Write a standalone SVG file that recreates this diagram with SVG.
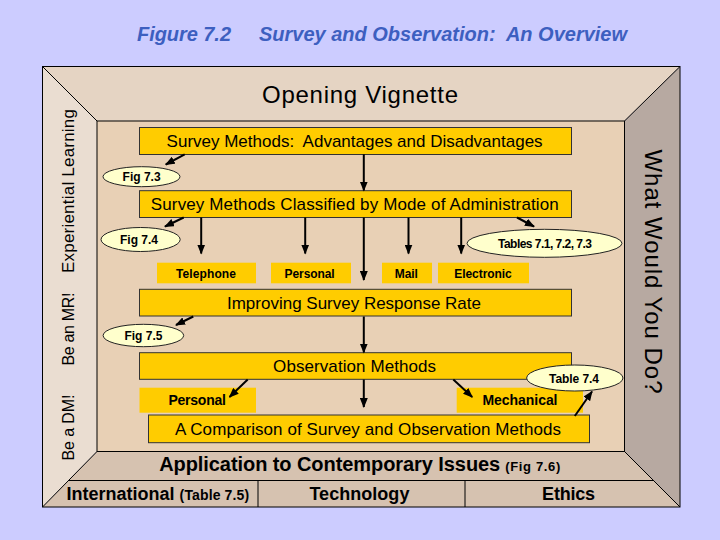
<svg xmlns="http://www.w3.org/2000/svg" width="720" height="540" viewBox="0 0 720 540">
<defs>
<style>
.t{font-family:"Liberation Sans",Arial,sans-serif;fill:#000}
.title{font-family:"Liberation Sans",Arial,sans-serif;font-weight:bold;font-style:italic;font-size:20px;fill:#3d5fc0}
.box{fill:#ffcc00;stroke:#333;stroke-width:1}
.sbox{fill:#ffcc00}
.ell{fill:#ffffcc;stroke:#222;stroke-width:1}
.bt{font-size:17px;text-anchor:middle}
.st{font-size:12px;font-weight:bold;text-anchor:middle}
.et{font-size:12px;font-weight:bold;text-anchor:middle}
.edge{stroke:#000;stroke-width:2;fill:none;marker-end:url(#ah)}
.frame{stroke:#000;stroke-width:1;fill:none}
</style>
<marker id="ah" markerWidth="10" markerHeight="8" refX="9" refY="4" orient="auto" markerUnits="userSpaceOnUse">
<path d="M0,0 L10,4 L0,8 z" fill="#000"/>
</marker>
</defs>
<rect x="0" y="0" width="720" height="540" fill="#ccccff"/>
<g id="title">
<text class="title" x="137" y="41" textLength="94">Figure 7.2</text>
<text class="title" x="259" y="41" textLength="368" xml:space="preserve">Survey and Observation:  An Overview</text>
</g>
<g id="frame">
<polygon points="42.5,66.5 680,66.5 624.5,121 97,121" fill="#e5d4c3"/>
<polygon points="42.5,66.5 97,121 97,451.5 42.5,507" fill="#eaddd1"/>
<polygon points="680,66.5 680,507 624.5,451.5 624.5,121" fill="#b7a9a1"/>
<polygon points="42.5,507 97,451.5 624.5,451.5 680,507" fill="#d6c2b0"/>
<rect x="97" y="121" width="527.5" height="330.5" fill="#e8d0b5" stroke="#000" stroke-width="1"/>
<rect x="42.5" y="66.5" width="637.5" height="440.5" class="frame" stroke-width="1.5"/>
<line x1="42.5" y1="66.5" x2="97" y2="121" class="frame"/>
<line x1="680" y1="66.5" x2="624.5" y2="121" class="frame"/>
<line x1="42.5" y1="507" x2="97" y2="451.5" class="frame"/>
<line x1="680" y1="507" x2="624.5" y2="451.5" class="frame"/>
<line x1="68.5" y1="480.5" x2="654" y2="480.5" class="frame"/>
<line x1="258" y1="480.5" x2="258" y2="507" class="frame"/>
<line x1="465" y1="480.5" x2="465" y2="507" class="frame"/>
</g>
<g id="opening-vignette">
<text class="t" x="360" y="103" font-size="24" text-anchor="middle" textLength="196">Opening Vignette</text>
</g>
<g id="side-left">
<text class="t" font-size="17" text-anchor="middle" transform="translate(74,191) rotate(-90)" textLength="164">Experiential Learning</text>
<text class="t" font-size="16" text-anchor="middle" transform="translate(74,329) rotate(-90)" textLength="73">Be an MR!</text>
<text class="t" font-size="16" text-anchor="middle" transform="translate(74,427.5) rotate(-90)" textLength="66">Be a DM!</text>
</g>
<g id="side-right">
<text class="t" font-size="24" text-anchor="middle" transform="translate(645,271.5) rotate(90)" textLength="244">What Would You Do?</text>
</g>
<g id="box-advantages">
<rect class="box" x="139.5" y="127.5" width="432" height="27"/>
<text class="t bt" x="354.6" y="147" textLength="376" xml:space="preserve">Survey Methods:  Advantages and Disadvantages</text>
</g>
<g id="fig73">
<ellipse class="ell" cx="141.5" cy="176.7" rx="38.5" ry="10"/>
<text class="t et" x="141.6" y="181" textLength="38">Fig 7.3</text>
</g>
<g id="box-classified">
<rect class="box" x="139.5" y="190.7" width="432" height="26.8"/>
<text class="t bt" x="354.8" y="210" textLength="408">Survey Methods Classified by Mode of Administration</text>
</g>
<g id="fig74">
<ellipse class="ell" cx="140.6" cy="239.5" rx="39.6" ry="12"/>
<text class="t et" x="139" y="244" textLength="38">Fig 7.4</text>
</g>
<g id="tables71">
<ellipse class="ell" cx="544.5" cy="243.3" rx="77.5" ry="14"/>
<text class="t et" x="545" y="247.5" font-size="11.5" textLength="94">Tables 7.1, 7.2, 7.3</text>
</g>
<g id="telephone">
<rect class="sbox" x="157" y="262.7" width="99" height="20.6"/>
<text class="t st" x="206" y="278" textLength="60">Telephone</text>
</g>
<g id="personal1">
<rect class="sbox" x="271" y="262.7" width="80" height="20.6"/>
<text class="t st" x="309.6" y="278" textLength="50">Personal</text>
</g>
<g id="mail">
<rect class="sbox" x="382" y="262.7" width="50" height="20.6"/>
<text class="t st" x="406.3" y="278" textLength="23">Mail</text>
</g>
<g id="electronic">
<rect class="sbox" x="438" y="262.7" width="91" height="20.6"/>
<text class="t st" x="483" y="278" textLength="57.5">Electronic</text>
</g>
<g id="box-improving">
<rect class="box" x="139.5" y="289.3" width="432" height="26.7"/>
<text class="t bt" x="354" y="308.5" textLength="254">Improving Survey Response Rate</text>
</g>
<g id="fig75">
<ellipse class="ell" cx="143.4" cy="335.5" rx="40.3" ry="11.2"/>
<text class="t et" x="143.4" y="339.5" textLength="38">Fig 7.5</text>
</g>
<g id="box-observation">
<rect class="box" x="139.5" y="352.7" width="432" height="26.6"/>
<text class="t bt" x="354.6" y="371.5" textLength="163">Observation Methods</text>
</g>
<g id="personal2">
<rect class="sbox" x="139.5" y="387.7" width="116.5" height="25"/>
<text class="t" x="197.2" y="405" font-size="14" font-weight="bold" text-anchor="middle" textLength="57.5">Personal</text>
</g>
<g id="mechanical">
<rect class="sbox" x="456.7" y="387.7" width="126.3" height="25"/>
<text class="t" x="520" y="405" font-size="14" font-weight="bold" text-anchor="middle" textLength="75">Mechanical</text>
</g>
<g id="table74">
<ellipse class="ell" cx="574.8" cy="378" rx="48.2" ry="13"/>
<text class="t et" x="574" y="383" textLength="50">Table 7.4</text>
</g>
<g id="box-comparison">
<rect class="box" x="148.5" y="415" width="441" height="27.7"/>
<text class="t bt" x="368" y="435" textLength="386">A Comparison of Survey and Observation Methods</text>
</g>
<g id="application">
<text class="t" x="159.2" y="471" font-size="20" font-weight="bold" textLength="341">Application to Contemporary Issues</text>
<text class="t" x="505.3" y="471" font-size="13" font-weight="bold" textLength="55">(Fig 7.6)</text>
</g>
<g id="international">
<text class="t" x="66.5" y="499.5" font-size="18" font-weight="bold" textLength="108">International</text>
<text class="t" x="179.6" y="499.5" font-size="14" font-weight="bold" textLength="69.5">(Table 7.5)</text>
</g>
<g id="technology">
<text class="t" x="359.4" y="499.5" font-size="18" font-weight="bold" text-anchor="middle" textLength="100">Technology</text>
</g>
<g id="ethics">
<text class="t" x="568.6" y="499.5" font-size="18" font-weight="bold" text-anchor="middle" textLength="53">Ethics</text>
</g>
<g id="connectors">
<line class="edge" x1="184.7" y1="154.3" x2="165.8" y2="164.5"/>
<line class="edge" x1="363.8" y1="154.3" x2="363.8" y2="190.5"/>
<line class="edge" x1="183.7" y1="217.5" x2="165" y2="226.5"/>
<line class="edge" x1="201.2" y1="217.5" x2="201.2" y2="253.5"/>
<line class="edge" x1="305.2" y1="217.5" x2="305.2" y2="253.5"/>
<line class="edge" x1="363.8" y1="217.5" x2="363.8" y2="280"/>
<line class="edge" x1="408.5" y1="217.5" x2="408.5" y2="253.5"/>
<line class="edge" x1="461.2" y1="217.5" x2="461.2" y2="253.5"/>
<line class="edge" x1="517" y1="217.5" x2="534" y2="226.5"/>
<line class="edge" x1="193.3" y1="316.5" x2="176" y2="325"/>
<line class="edge" x1="363.8" y1="316.5" x2="363.8" y2="352.5"/>
<line class="edge" x1="247.7" y1="379.5" x2="229.5" y2="397"/>
<line class="edge" x1="363.8" y1="379.5" x2="363.8" y2="407"/>
<line class="edge" x1="453.3" y1="379.5" x2="472.2" y2="397"/>
<line class="edge" x1="574.8" y1="416" x2="592" y2="391.5"/>
</g>
</svg>
